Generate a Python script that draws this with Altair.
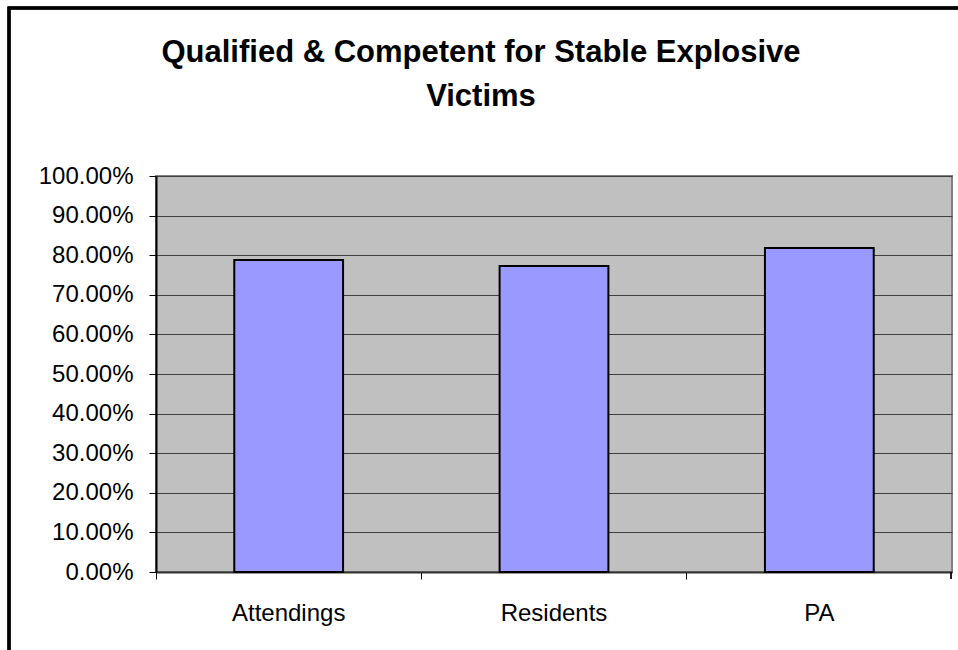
import altair as alt
import pandas as pd

# Survey results: share of respondents who rated themselves qualified & competent
groups = ["Attendings", "Residents", "PA"]
shares = [0.7879, 0.7727, 0.8182]

# y-axis gridline/tick values
tick_values = [0.0, 0.1, 0.2, 0.3, 0.4, 0.5, 0.6, 0.7, 0.8, 0.9, 1.0]

df = pd.DataFrame({"group": groups, "share": shares})

FONT = "Liberation Sans"

bars = alt.Chart(df).mark_bar(
    color="#9999FF",
    stroke="#000000",
    strokeWidth=2,
    width=alt.RelativeBandSize(0.41),
).encode(
    x=alt.X(
        "group:N",
        sort=groups,
        title=None,
        scale=alt.Scale(paddingInner=0, paddingOuter=0),
        axis=alt.Axis(
            labelAngle=0,
            labelFont=FONT,
            labelFontSize=24,
            labelColor="#000000",
            labelPadding=22,
            bandPosition=0,
            tickSize=7,
            tickColor="#000000",
            domainColor="#333333",
            domainWidth=2,
            grid=False,
        ),
    ),
    y=alt.Y(
        "share:Q",
        title=None,
        scale=alt.Scale(domain=[0, 1], nice=False),
        axis=alt.Axis(
            values=tick_values,
            format=".2%",
            labelFont=FONT,
            labelFontSize=24,
            labelColor="#000000",
            labelPadding=16,
            tickSize=7,
            tickColor="#000000",
            domainColor="#000000",
            domainWidth=2,
            gridColor="#404040",
            gridWidth=1,
        ),
    ),
)

# Closing tick at the right end of the category axis
end_tick = alt.Chart(df).mark_rule(color="#000000", strokeWidth=1).encode(
    x=alt.value(795),
    y=alt.value(396),
    y2=alt.value(403),
)

# Outer frame around the whole chart
frame = alt.Chart(df).mark_rect(
    fill=None, stroke="#000000", strokeWidth=3
).encode(
    x=alt.value(-147),
    y=alt.value(-168),
    x2=alt.value(812),
    y2=alt.value(484),
)

# The frame extends the group bounds upward, so the title offset is
# measured from the frame's top edge (hence negative).
chart = alt.layer(bars, end_tick, frame).properties(
    width=796,
    height=396,
    autosize=alt.AutoSizeParams(type="none"),
    padding={"left": 156, "top": 176, "right": 6, "bottom": 78},
    background="#FFFFFF",
    title=alt.TitleParams(
        text=["Qualified & Competent for Stable Explosive", "Victims"],
        font=FONT,
        fontSize=31,
        fontWeight="bold",
        color="#000000",
        anchor="middle",
        frame="group",
        dx=-73,
        offset=-106,
        lineHeight=44,
    ),
).configure_view(
    fill="#C0C0C0",
    stroke="#808080",
    strokeWidth=2,
)

chart.save("out.html", embed_options={"renderer": "svg", "actions": False})
